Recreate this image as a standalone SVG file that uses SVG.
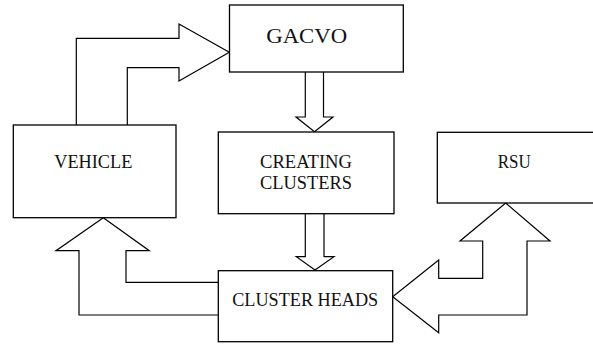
<svg xmlns="http://www.w3.org/2000/svg" width="593" height="345" viewBox="0 0 593 345">
<style>
.box{fill:#fff;stroke:#000;stroke-width:1.3}
.arr{fill:#fff;stroke:#000;stroke-width:1.2;stroke-linejoin:miter}
text{font-family:"Liberation Serif","Times New Roman",serif;fill:#111;text-anchor:middle}
.t{font-size:18px}
</style>
<rect width="593" height="345" fill="#fff"/>
<g id="connectors">
<path class="arr" d="M76.3,125 L76.3,38.3 L179,38.3 L179,24 L229.3,52.3 L179,81 L179,67.7 L127.3,67.7 L127.3,125"/>
<path class="arr" d="M305.3,72 L305.3,117 L296,117 L314.5,131.7 L333,117 L323.5,117 L323.5,72"/>
<path class="arr" d="M305.3,213.7 L305.3,256.7 L296.3,256.7 L315,270 L334,256.7 L324,256.7 L324,213.7"/>
<path class="arr" d="M218.3,282.3 L126,282.3 L126,250.7 L149.3,250.7 L103.3,217.7 L56,250.7 L79,250.7 L79,315 L218.3,315"/>
<path class="arr" d="M505.7,203 L550,241 L527,241 L527,315 L438.7,315 L438.7,332.7 L392.7,296.7 L438.7,260 L438.7,278.3 L482.7,278.3 L482.7,241 L460,241 Z"/>
</g>
<g id="gacvo">
<rect class="box" x="229.5" y="5" width="173.8" height="67"/>
<text x="306.7" y="43.3" font-size="22" textLength="81" lengthAdjust="spacingAndGlyphs">GACVO</text>
</g>
<g id="creating">
<rect class="box" x="218.3" y="132" width="175.7" height="81.7"/>
<text class="t" x="306" y="168.3" textLength="92" lengthAdjust="spacingAndGlyphs">CREATING</text>
<text class="t" x="306" y="189" textLength="92" lengthAdjust="spacingAndGlyphs">CLUSTERS</text>
</g>
<g id="vehicle">
<rect class="box" x="13.3" y="125" width="162.7" height="92.7"/>
<text class="t" x="93.3" y="168.3" textLength="78" lengthAdjust="spacingAndGlyphs">VEHICLE</text>
</g>
<g id="clusterheads">
<rect class="box" x="218.3" y="270.7" width="174.4" height="71"/>
<text class="t" x="305.2" y="306" textLength="146" lengthAdjust="spacingAndGlyphs">CLUSTER HEADS</text>
</g>
<g id="rsu">
<rect class="box" x="437.3" y="132.3" width="160" height="70.7"/>
<text class="t" x="514.3" y="168.3" textLength="33" lengthAdjust="spacingAndGlyphs">RSU</text>
</g>
</svg>
